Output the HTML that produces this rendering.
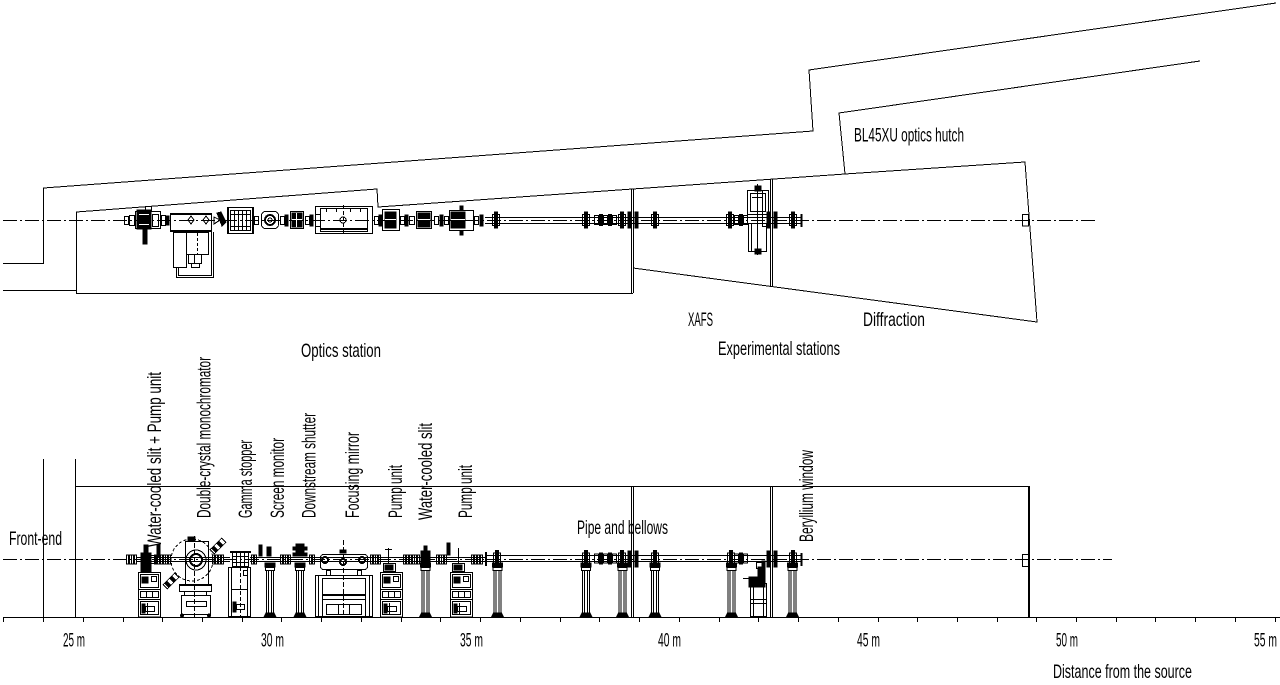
<!DOCTYPE html>
<html><head><meta charset="utf-8"><style>
html,body{margin:0;padding:0;background:#fff;}
svg{display:block;}
text{font-family:"Liberation Sans",sans-serif;font-size:19.5px;fill:#000;}
</style></head><body>
<svg width="1280" height="685" viewBox="0 0 1280 685" xmlns="http://www.w3.org/2000/svg">
<defs>
 <g id="cab">
  <rect x="0.5" y="0.5" width="22" height="44.5"/>
  <rect x="2.5" y="2.5" width="18" height="13"/>
  <rect x="4" y="5" width="6" height="6" fill="#000"/>
  <rect x="13.5" y="4.5" width="5" height="5"/>
  <line x1="0" y1="17.5" x2="22" y2="17.5"/>
  <rect x="2.5" y="19.5" width="18" height="6"/>
  <line x1="8.5" y1="19.5" x2="8.5" y2="25.5"/>
  <line x1="14.5" y1="19.5" x2="14.5" y2="25.5"/>
  <line x1="0" y1="27.5" x2="22" y2="27.5"/>
  <rect x="2.5" y="29.5" width="18" height="13"/>
  <rect x="4" y="32" width="3" height="9" fill="#000"/>
  <rect x="7.5" y="34.5" width="9" height="5"/>
  <line x1="9.5" y1="31" x2="9.5" y2="43"/>
 </g>
 <g id="pil">
  <rect x="-5" y="0" width="10" height="4" fill="#000"/>
  <rect x="-4.5" y="4.5" width="9" height="3"/>
  <line x1="-3.5" y1="7" x2="-3.5" y2="51"/>
  <line x1="3.5" y1="7" x2="3.5" y2="51"/>
  <line x1="-1.5" y1="7" x2="-1.5" y2="51"/>
  <line x1="1.5" y1="7" x2="1.5" y2="51"/>
  <path d="M-6 54 L-4 50 L4 50 L6 54Z" fill="#000"/>
 </g>
 <g id="fb">
  <rect x="-2.5" y="-4.5" width="5" height="9"/>
  <line x1="0" y1="-4.5" x2="0" y2="4.5" stroke-width="2"/>
 </g>
 <g id="fv">
  <rect x="-1.5" y="-8" width="3" height="16" fill="#000"/>
  <rect x="-3.5" y="-5.5" width="7" height="11"/>
 </g>
 <g id="bel">
  <rect x="-6.5" y="-4.5" width="4" height="9"/>
  <rect x="-1.5" y="-5.5" width="3" height="11" fill="#000"/>
  <rect x="2.5" y="-4.5" width="4" height="9"/>
 </g>
</defs>

<g fill="none" stroke="#000" stroke-width="1" shape-rendering="crispEdges">
 <!-- ===== TOP PLAN VIEW ===== -->
 <polyline points="3,263.5 43.5,263.5 43.5,188 813,131 809,70 1276,3"/>
 <line x1="3" y1="290.5" x2="76" y2="290.5"/>
 <polyline points="633,268 1037,322 1025,162 845,174 839,113 1200,61"/>
 <polyline points="845,174 378,207 377,189 76.5,212 76.5,293.5 633,293.5"/>
 <line x1="631.5" y1="189" x2="631.5" y2="293"/>
 <line x1="633.5" y1="189" x2="633.5" y2="293"/>
 <line x1="770.5" y1="179" x2="770.5" y2="287"/>
 <line x1="772.5" y1="179" x2="772.5" y2="287"/>
 <line x1="3" y1="220.5" x2="1095" y2="220.5" stroke-dasharray="14,3,2,3"/>
 <rect x="1022.5" y="214.5" width="6" height="11.5"/>

 <!-- top components -->
 <rect x="124.5" y="216.5" width="4" height="8"/>
 <rect x="129.5" y="215.5" width="5" height="10"/>
 <rect x="135.5" y="211.5" width="25" height="17"/>
 <rect x="137" y="210" width="14" height="19" fill="#000"/>
 <line x1="139" y1="214.5" x2="149" y2="214.5" stroke="#fff"/>
 <line x1="139" y1="224.5" x2="149" y2="224.5" stroke="#fff"/>
 <rect x="143" y="228" width="4" height="16" fill="#000"/>
 <rect x="145.5" y="206.5" width="6" height="4"/>
 <rect x="152.5" y="214.5" width="6" height="12"/>
 <rect x="161.5" y="215.5" width="4" height="10"/>
 <rect x="166" y="216" width="3" height="9" fill="#000"/>

 <rect x="170.5" y="214.5" width="41" height="16"/>
 <line x1="170" y1="214" x2="212" y2="214" stroke-width="2"/>
 <line x1="170" y1="231" x2="212" y2="231" stroke-width="2"/>
 <path d="M188 220 L191 216 L194 220 L191 224Z"/>
 <path d="M203 220 L206 216 L209 220 L206 224Z"/>
 <rect x="173.5" y="232.5" width="13" height="35"/>
 <rect x="186.5" y="232.5" width="22" height="22"/>
 <line x1="197.5" y1="233" x2="197.5" y2="254" stroke-dasharray="3,2"/>
 <rect x="188.5" y="254.5" width="13" height="9"/>
 <line x1="194.5" y1="254" x2="194.5" y2="263"/>
 <rect x="191.5" y="263.5" width="8" height="4"/>
 <polyline points="176.5,268 176.5,277.5 213.5,277.5 213.5,232"/>
 <polyline points="178.5,268 178.5,275.5 211.5,275.5 211.5,232"/>
 <path d="M214 217 L220 220 L214 224Z"/>
 <path d="M217 213 L221 212 L226 222 L222 226Z" fill="#000"/>

 <rect x="227.5" y="207.5" width="26" height="26"/>
 <rect x="230.5" y="210.5" width="20" height="20"/>
 <line x1="234.5" y1="210" x2="234.5" y2="231"/>
 <line x1="238.5" y1="210" x2="238.5" y2="231"/>
 <line x1="242.5" y1="210" x2="242.5" y2="231"/>
 <line x1="246.5" y1="210" x2="246.5" y2="231"/>
 <line x1="230" y1="214.5" x2="251" y2="214.5"/>
 <line x1="230" y1="226.5" x2="251" y2="226.5"/>
 <line x1="228" y1="208" x2="228" y2="233" stroke-width="2"/>
 <line x1="253" y1="208" x2="253" y2="233" stroke-width="2"/>
 <rect x="254.5" y="216.5" width="4" height="8"/>
 <rect x="261.5" y="211.5" width="17" height="17" rx="4"/>
 <circle cx="270" cy="220" r="5" stroke-width="2"/>
 <circle cx="270" cy="220" r="2"/>
 <rect x="280.5" y="216.5" width="4" height="8"/>
 <rect x="285" y="215" width="3" height="11" fill="#000"/>
 <rect x="290.5" y="211.5" width="13" height="17"/>
 <rect x="292" y="213" width="10" height="14" fill="#000"/>
 <line x1="292" y1="219.5" x2="302" y2="219.5" stroke="#fff"/>
 <line x1="296.5" y1="213" x2="296.5" y2="227" stroke="#fff"/>
 <rect x="305.5" y="216.5" width="4" height="8"/>
 <rect x="310" y="215" width="3" height="11" fill="#000"/>

 <rect x="315.5" y="206.5" width="57" height="27"/>
 <rect x="320.5" y="208.5" width="47" height="23"/>
 <line x1="320" y1="229" x2="368" y2="229" stroke-width="2"/>
 <line x1="343.5" y1="205" x2="343.5" y2="234" stroke-dasharray="4,2"/>
 <circle cx="343" cy="220" r="3"/>
 <line x1="326.5" y1="208" x2="326.5" y2="212"/>
 <line x1="336.5" y1="208" x2="336.5" y2="212"/>
 <line x1="350.5" y1="208" x2="350.5" y2="212"/>
 <line x1="360.5" y1="208" x2="360.5" y2="212"/>
 <line x1="316" y1="214.5" x2="320" y2="214.5"/>
 <line x1="316" y1="226.5" x2="320" y2="226.5"/>
 <rect x="374.5" y="216.5" width="4" height="8"/>
 <rect x="379" y="215" width="3" height="11" fill="#000"/>
 <rect x="382.5" y="209.5" width="17" height="21"/>
 <rect x="385" y="212" width="11" height="16" fill="#000"/>
 <line x1="385" y1="219.5" x2="396" y2="219.5" stroke="#fff"/>
 <rect x="400.5" y="216.5" width="4" height="8"/>
 <rect x="405" y="215" width="3" height="11" fill="#000"/>
 <rect x="409.5" y="216.5" width="5" height="8"/>
 <rect x="416.5" y="211.5" width="15" height="17"/>
 <rect x="418" y="213" width="12" height="14" fill="#000"/>
 <line x1="418" y1="219.5" x2="430" y2="219.5" stroke="#fff"/>
 <rect x="434.5" y="216.5" width="4" height="8"/>
 <rect x="440" y="215" width="3" height="11" fill="#000"/>
 <rect x="444.5" y="216.5" width="4" height="8"/>
 <rect x="449.5" y="210.5" width="24" height="20"/>
 <rect x="451" y="212" width="14" height="16" fill="#000"/>
 <line x1="451" y1="219.5" x2="465" y2="219.5" stroke="#fff"/>
 <rect x="460" y="206" width="3" height="4" fill="#000"/>
 <rect x="460" y="231" width="3" height="4" fill="#000"/>
 <rect x="474.5" y="216.5" width="4" height="8"/>
 <rect x="480" y="215" width="3" height="11" fill="#000"/>
 <line x1="485" y1="217.5" x2="802" y2="217.5"/>
 <line x1="485" y1="223.5" x2="802" y2="223.5"/>
 <use href="#fv" x="496" y="220"/>
 <use href="#fv" x="586" y="220"/>
 <use href="#bel" x="601" y="220"/>
 <use href="#bel" x="610" y="220"/>
 <use href="#fv" x="622" y="220"/>
 <rect x="628" y="212" width="3" height="16" fill="#000"/>
 <rect x="635" y="212" width="3" height="16" fill="#000"/>
 <use href="#fv" x="655" y="220"/>
 <use href="#fv" x="730" y="220"/>
 <use href="#bel" x="741" y="220"/>
 <rect x="747.5" y="190.5" width="21" height="24"/>
 <rect x="750.5" y="193.5" width="15" height="18"/>
 <line x1="762.5" y1="191" x2="762.5" y2="214"/>
 <rect x="748.5" y="223.5" width="18" height="28"/>
 <line x1="751.5" y1="224" x2="751.5" y2="251"/>
 <line x1="757.5" y1="184" x2="757.5" y2="255"/>
 <rect x="755" y="186" width="6" height="5" fill="#000"/>
 <rect x="755" y="249" width="6" height="5" fill="#000"/>
 <line x1="752" y1="197.5" x2="762" y2="197.5"/>
 <rect x="762.5" y="214.5" width="8" height="12"/>
 <rect x="767" y="212" width="3" height="16" fill="#000"/>
 <rect x="774" y="212" width="3" height="16" fill="#000"/>
 <use href="#fv" x="793" y="220"/>
 <line x1="801.5" y1="214" x2="801.5" y2="227" stroke-width="2"/>

 <!-- ===== BOTTOM ELEVATION ===== -->
 <line x1="3" y1="617.5" x2="1280" y2="617.5"/>
 <path d="M3.5 617V622M43.5 617V622M83.5 617V622M123.5 617V622M162.5 617V622M202.5 617V622M242.5 617V622M281.5 617V622M321.5 617V622M361.5 617V622M401.5 617V622M440.5 617V622M480.5 617V622M520.5 617V622M560.5 617V622M599.5 617V622M639.5 617V622M679.5 617V622M719.5 617V622M758.5 617V622M798.5 617V622M838.5 617V622M878.5 617V622M917.5 617V622M957.5 617V622M997.5 617V622M1036.5 617V622M1076.5 617V622M1116.5 617V622M1155.5 617V622M1195.5 617V622M1235.5 617V622M1275.5 617V622"/>
 <line x1="43.5" y1="459" x2="43.5" y2="617"/>
 <line x1="75.5" y1="459" x2="75.5" y2="617"/>
 <line x1="75.5" y1="486.5" x2="1029" y2="486.5"/>
 <line x1="631.5" y1="486" x2="631.5" y2="617"/>
 <line x1="633.5" y1="486" x2="633.5" y2="617"/>
 <line x1="770.5" y1="486" x2="770.5" y2="617"/>
 <line x1="772.5" y1="486" x2="772.5" y2="617"/>
 <line x1="1029" y1="486" x2="1029" y2="617" stroke-width="2"/>
 <line x1="3" y1="559.5" x2="1112" y2="559.5" stroke-dasharray="14,3,2,3"/>
 <rect x="1022.5" y="554.5" width="6" height="12"/>

 <!-- flanges on axis -->
 <use href="#fb" x="129" y="559.5"/>
 <use href="#fb" x="134" y="559.5"/>
 <use href="#fb" x="157" y="559.5"/>
 <use href="#fb" x="163" y="559.5"/>
 <use href="#fb" x="168" y="559.5"/>
 <use href="#fb" x="215" y="559.5"/>
 <use href="#fb" x="221" y="559.5"/>
 <use href="#fb" x="254" y="559.5"/>
 <use href="#fb" x="283" y="559.5"/>
 <use href="#fb" x="288" y="559.5"/>
 <use href="#fb" x="312" y="559.5"/>
 <use href="#fb" x="373" y="559.5"/>
 <use href="#fb" x="378" y="559.5"/>
 <use href="#fb" x="406" y="559.5"/>
 <use href="#fb" x="412" y="559.5"/>
 <use href="#fb" x="417" y="559.5"/>
 <use href="#fb" x="439" y="559.5"/>
 <use href="#fb" x="444" y="559.5"/>
 <use href="#fb" x="474" y="559.5"/>
 <use href="#fb" x="480" y="559.5"/>
 <line x1="136" y1="557.5" x2="230" y2="557.5"/>
 <line x1="136" y1="561.5" x2="230" y2="561.5"/>
 <line x1="250" y1="557.5" x2="485" y2="557.5"/>
 <line x1="250" y1="561.5" x2="485" y2="561.5"/>

 <!-- slit + pump -->
 <use href="#cab" x="138" y="572"/>
 <path d="M141 572 V553 h3 v-8 h4 v8 h3 V572Z" fill="#000"/>
 <rect x="157" y="545" width="3" height="12" fill="#000"/>
 <rect x="150.5" y="555.5" width="5" height="8"/>

 <!-- monochromator -->
 <circle cx="192" cy="560" r="21" stroke-dasharray="3,2"/>
 <rect x="185.5" y="541.5" width="23" height="44"/>
 <circle cx="196" cy="560" r="10"/>
 <circle cx="196" cy="560" r="6" stroke-width="2"/>
 <line x1="194.5" y1="536" x2="194.5" y2="617" stroke-dasharray="5,2"/>
 <rect x="188" y="537" width="7" height="4" fill="#000"/>
 <rect x="179.5" y="585.5" width="32" height="6"/>
 <line x1="179" y1="585" x2="212" y2="585" stroke-width="2"/>
 <line x1="184.5" y1="591" x2="184.5" y2="595"/>
 <line x1="206.5" y1="591" x2="206.5" y2="595"/>
 <rect x="181.5" y="595.5" width="29" height="19"/>
 <rect x="186.5" y="601.5" width="20" height="5"/>
 <circle cx="182" cy="615.5" r="1.5" fill="#000"/>
 <circle cx="209" cy="615.5" r="1.5" fill="#000"/>
 <g transform="translate(218,546) rotate(-45)">
  <rect x="-8" y="-3" width="16" height="6"/>
  <rect x="-6" y="-2" width="3" height="4" fill="#000"/>
  <rect x="1" y="-2" width="3" height="4" fill="#000"/>
 </g>
 <g transform="translate(171,581) rotate(-45)">
  <rect x="-8" y="-3" width="16" height="6"/>
  <rect x="-6" y="-2" width="3" height="4" fill="#000"/>
  <rect x="1" y="-2" width="3" height="4" fill="#000"/>
 </g>

 <!-- gamma stopper -->
 <rect x="228.5" y="567.5" width="22" height="49"/>
 <line x1="231.5" y1="568" x2="231.5" y2="617"/>
 <line x1="247.5" y1="568" x2="247.5" y2="617"/>
 <rect x="232.5" y="552.5" width="16" height="14"/>
 <line x1="236.5" y1="552" x2="236.5" y2="567"/>
 <line x1="240.5" y1="552" x2="240.5" y2="567"/>
 <line x1="244.5" y1="552" x2="244.5" y2="567"/>
 <line x1="230" y1="552" x2="251" y2="552" stroke-width="2"/>
 <line x1="232" y1="556.5" x2="249" y2="556.5"/>
 <line x1="232" y1="562.5" x2="249" y2="562.5"/>
 <rect x="243.5" y="570.5" width="4" height="5"/>
 <line x1="232" y1="589.5" x2="247" y2="589.5"/>
 <line x1="240.5" y1="567" x2="240.5" y2="617" stroke-dasharray="4,2"/>
 <rect x="233" y="602" width="3" height="10" fill="#000"/>
 <rect x="236.5" y="604.5" width="8" height="5"/>

 <!-- screen monitor -->
 <rect x="259" y="545" width="3" height="11" fill="#000"/>
 <rect x="267" y="547" width="4" height="9" fill="#000"/>
 <use href="#pil" x="270" y="563"/>
 <!-- downstream shutter -->
 <path d="M296 544h8v3h3v3h-3v3h3v3h-14v-3h3v-3h-3v-3h3z" fill="#000"/>
 <use href="#pil" x="300" y="563"/>

 <!-- focusing mirror -->
 <rect x="315.5" y="575.5" width="57" height="41"/>
 <line x1="318.5" y1="576" x2="318.5" y2="617"/>
 <line x1="369.5" y1="576" x2="369.5" y2="617"/>
 <rect x="322.5" y="578.5" width="43" height="38"/>
 <rect x="320.5" y="554.5" width="47" height="15" rx="3"/>
 <line x1="343.5" y1="540" x2="343.5" y2="617" stroke-dasharray="5,2"/>
 <circle cx="325" cy="560" r="3" stroke-width="2"/>
 <circle cx="343" cy="562" r="3" stroke-width="2"/>
 <circle cx="362" cy="560" r="3" stroke-width="2"/>
 <rect x="340" y="550" width="6" height="3" fill="#000"/>
 <rect x="326.5" y="570.5" width="4" height="5"/>
 <rect x="357.5" y="570.5" width="4" height="5"/>
 <line x1="322" y1="595" x2="366" y2="595" stroke-width="2"/>
 <line x1="322" y1="599.5" x2="366" y2="599.5"/>
 <rect x="326.5" y="604.5" width="35" height="10"/>
 <line x1="338.5" y1="604" x2="338.5" y2="615"/>
 <line x1="349.5" y1="604" x2="349.5" y2="615"/>

 <!-- pump unit 1 -->
 <use href="#cab" x="380" y="572"/>
 <rect x="383.5" y="563.5" width="12" height="8"/>
 <rect x="385" y="565" width="8" height="5" fill="#000"/>
 <line x1="388.5" y1="548" x2="388.5" y2="563"/>
 <line x1="385" y1="549.5" x2="392" y2="549.5"/>

 <!-- water-cooled slit -->
 <path d="M421 563 V551 h3 v-5 h3 v5 h3 V563Z" fill="#000"/>
 <use href="#pil" x="425.5" y="563"/>

 <!-- pump unit 2 -->
 <rect x="447" y="543" width="3" height="12" fill="#000"/>
 <use href="#cab" x="450" y="572"/>
 <rect x="452.5" y="563.5" width="12" height="8"/>
 <rect x="454" y="565" width="8" height="5" fill="#000"/>
 <line x1="458.5" y1="548" x2="458.5" y2="563"/>

 <!-- pipe -->
 <line x1="485" y1="555.5" x2="802" y2="555.5"/>
 <line x1="485" y1="561.5" x2="802" y2="561.5"/>
 <use href="#pil" x="497.5" y="563"/>
 <use href="#pil" x="586" y="563"/>
 <use href="#pil" x="622.5" y="563"/>
 <use href="#pil" x="655" y="563"/>
 <use href="#pil" x="731.5" y="563"/>
 <use href="#pil" x="792.5" y="563"/>
 <line x1="486" y1="552" x2="486" y2="566" stroke-width="2"/>
 <use href="#fv" x="497" y="558.5"/>
 <use href="#fv" x="586" y="558.5"/>
 <use href="#bel" x="601" y="558.5"/>
 <use href="#bel" x="610" y="558.5"/>
 <use href="#fv" x="622" y="558.5"/>
 <rect x="628" y="551" width="3" height="16" fill="#000"/>
 <rect x="635" y="551" width="3" height="16" fill="#000"/>
 <use href="#fv" x="655" y="558.5"/>
 <use href="#fv" x="731" y="558.5"/>
 <use href="#bel" x="741" y="558.5"/>
 <rect x="767" y="551" width="3" height="16" fill="#000"/>
 <rect x="774" y="551" width="3" height="16" fill="#000"/>
 <use href="#fv" x="793" y="558.5"/>
 <line x1="801.5" y1="553" x2="801.5" y2="566" stroke-width="2"/>

 <!-- beryllium window -->
 <rect x="750.5" y="583.5" width="16" height="33"/>
 <line x1="753.5" y1="584" x2="753.5" y2="617"/>
 <line x1="763.5" y1="584" x2="763.5" y2="617"/>
 <line x1="751" y1="599.5" x2="766" y2="599.5"/>
 <line x1="751" y1="603.5" x2="766" y2="603.5"/>
 <path d="M749 577 h9 v-10 h4 v-6 h3 v26 h-16Z" fill="#000"/>
 <line x1="743" y1="578.5" x2="750" y2="578.5"/>
 <rect x="756.5" y="562.5" width="6" height="6"/>
</g>

<!-- ===== TEXT ===== -->
<text x="854" y="141.5" font-size="18" textLength="110" lengthAdjust="spacingAndGlyphs">BL45XU optics hutch</text>
<text x="688" y="326" textLength="25" lengthAdjust="spacingAndGlyphs">XAFS</text>
<text x="863" y="326" textLength="62" lengthAdjust="spacingAndGlyphs">Diffraction</text>
<text x="718" y="355" textLength="122" lengthAdjust="spacingAndGlyphs">Experimental stations</text>
<text x="301" y="357" textLength="80" lengthAdjust="spacingAndGlyphs">Optics station</text>
<text x="9" y="545" textLength="53" lengthAdjust="spacingAndGlyphs">Front-end</text>
<text x="577" y="534" textLength="91" lengthAdjust="spacingAndGlyphs">Pipe and bellows</text>

<text transform="translate(161,547) rotate(-90)" textLength="175" lengthAdjust="spacingAndGlyphs">Water-cooled slit + Pump unit</text>
<text transform="translate(210.5,518) rotate(-90)" textLength="161" lengthAdjust="spacingAndGlyphs">Double-crystal monochromator</text>
<text transform="translate(252,518) rotate(-90)" textLength="78" lengthAdjust="spacingAndGlyphs">Gamma stopper</text>
<text transform="translate(284,518) rotate(-90)" textLength="80" lengthAdjust="spacingAndGlyphs">Screen monitor</text>
<text transform="translate(315.5,518) rotate(-90)" textLength="105" lengthAdjust="spacingAndGlyphs">Downstream shutter</text>
<text transform="translate(359,518) rotate(-90)" textLength="86" lengthAdjust="spacingAndGlyphs">Focusing mirror</text>
<text transform="translate(402,518) rotate(-90)" textLength="53" lengthAdjust="spacingAndGlyphs">Pump unit</text>
<text transform="translate(432,520) rotate(-90)" textLength="97" lengthAdjust="spacingAndGlyphs">Water-cooled slit</text>
<text transform="translate(472,518) rotate(-90)" textLength="53" lengthAdjust="spacingAndGlyphs">Pump unit</text>
<text transform="translate(813,542) rotate(-90)" textLength="92" lengthAdjust="spacingAndGlyphs">Beryllium window</text>

<text x="63" y="646.5" textLength="22" lengthAdjust="spacingAndGlyphs">25 m</text>
<text x="261" y="646.5" textLength="23" lengthAdjust="spacingAndGlyphs">30 m</text>
<text x="460" y="646.5" textLength="23" lengthAdjust="spacingAndGlyphs">35 m</text>
<text x="658" y="646.5" textLength="23" lengthAdjust="spacingAndGlyphs">40 m</text>
<text x="857" y="646.5" textLength="23" lengthAdjust="spacingAndGlyphs">45 m</text>
<text x="1056" y="646.5" textLength="22" lengthAdjust="spacingAndGlyphs">50 m</text>
<text x="1254" y="646.5" textLength="23" lengthAdjust="spacingAndGlyphs">55 m</text>
<text x="1053" y="678" textLength="139" lengthAdjust="spacingAndGlyphs">Distance from the source</text>
</svg>
</body></html>
